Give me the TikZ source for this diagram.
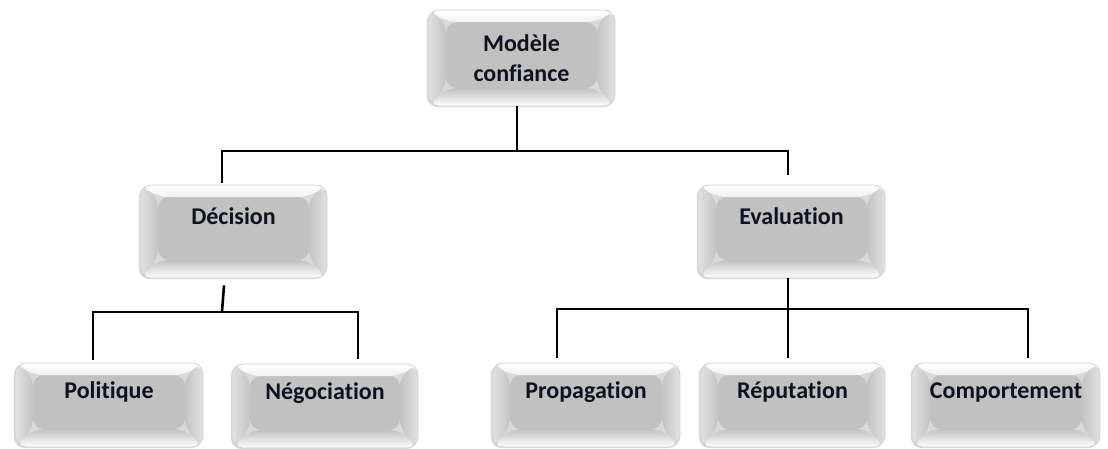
\documentclass[tikz,border=0pt]{standalone}
\usepackage{fontspec}
\setmainfont{Carlito}[Ligatures=NoCommon]
\usetikzlibrary{calc,shadows}

\definecolor{ink}{HTML}{0E1220}
\definecolor{keyface}{HTML}{C1C1C1}
\definecolor{keyside}{HTML}{C3C3C3}
\definecolor{keyrim}{HTML}{E2E2E2}
\definecolor{keytop}{HTML}{F2F2F2}

\tikzset{
  key/.style={
    rectangle, rounded corners=11pt, inner sep=0pt,
    draw=black!18, line width=0.8pt,
    drop shadow={shadow xshift=-1.2pt, shadow yshift=-1.2pt, opacity=.3, fill=black!50},
    font=\bfseries\fontsize{24}{30}\selectfont, text=ink,
    path picture={
      \coordinate (kSW) at (path picture bounding box.south west);
      \coordinate (kNE) at (path picture bounding box.north east);
      \coordinate (kSE) at (path picture bounding box.south east);
      \coordinate (kNW) at (path picture bounding box.north west);
      \coordinate (fSW) at ($(kSW)+(18pt,18pt)$);
      \coordinate (fNE) at ($(kNE)+(-18pt,-12pt)$);
      \coordinate (fSE) at (fSW -| fNE);
      \coordinate (fNW) at (fSW |- fNE);
      \fill[keyface] (fSW) rectangle (fNE);
      \shade[top color=white, bottom color=keytop]
        (kNW) -- (kNE) -- (fNE) -- (fNW) -- cycle;
      \shade[left color=keyrim, right color=keyside]
        (kNW) -- (fNW) -- (fSW) -- (kSW) -- cycle;
      \shade[left color=keyside, right color=keyrim]
        (kNE) -- (fNE) -- (fSE) -- (kSE) -- cycle;
      \shade[top color=keyface, bottom color=white]
        (fSW) -- (fSE) -- (kSE) -- (kSW) -- cycle;
    }
  },
  keyone/.style={key, text height=16pt, text depth=30pt},
  wire/.style={draw=black, line width=2.6pt},
  thinwire/.style={draw=black, line width=1.1pt}
}

\begin{document}
\begin{tikzpicture}[x=1pt, y=-1pt]
  \useasboundingbox (0,0) rectangle (1108,448);
  \clip (0,0) rectangle (1108,448);

  % boxes
  \node[key, align=center, minimum width=187pt, minimum height=96pt]
    (top) at (521.5,58) {Modèle\\confiance};
  \node[keyone, minimum width=187pt, minimum height=93pt] (dec) at (233.5,231.5) {Décision};
  \node[keyone, minimum width=187pt, minimum height=93pt] (eva) at (791.5,231.5) {Evaluation};
  \node[keyone, minimum width=188pt, minimum height=84pt] (pol) at (109,405) {Politique};
  \node[keyone, minimum width=186pt, minimum height=84pt] (neg) at (325,406) {Négociation};
  \node[keyone, minimum width=188pt, minimum height=84pt] (pro) at (586,405) {Propagation};
  \node[keyone, minimum width=185pt, minimum height=84pt] (rep) at (792.5,405) {Réputation};
  \node[keyone, minimum width=188pt, minimum height=84pt] (com) at (1006,405) {Comportement};

  % junction points of the connectors
  \coordinate (jt) at (517,151);
  \coordinate (jd) at (222,151);
  \coordinate (je) at (788,151);
  \coordinate (ds) at (222,312);
  \coordinate (pl) at (93,312);
  \coordinate (pr) at (358,312);
  \coordinate (ql) at (557,309);
  \coordinate (qm) at (788,309);
  \coordinate (qr) at (1028,309);

  % first level
  \draw[thinwire] (top.south -| jt) -- (jt);
  \draw[wire, shorten <=2pt, shorten >=10pt]
    (dec.north -| jd) -- (jd) -- (je) -- (eva.north -| je);

  % decision branch
  \draw[wire] ([xshift=-9.5pt, yshift=-7pt]dec.south) -- (ds);
  \draw[wire, shorten <=3pt, shorten >=5pt]
    (pol.north -| pl) -- (pl) -- (pr) -- (neg.north -| pr);

  % evaluation branch
  \draw[wire, shorten >=5pt] (eva.south -| qm) -- (rep.north -| qm);
  \draw[wire, shorten <=5pt, shorten >=5pt]
    (pro.north -| ql) -- (ql) -- (qr) -- (com.north -| qr);
\end{tikzpicture}
\end{document}
